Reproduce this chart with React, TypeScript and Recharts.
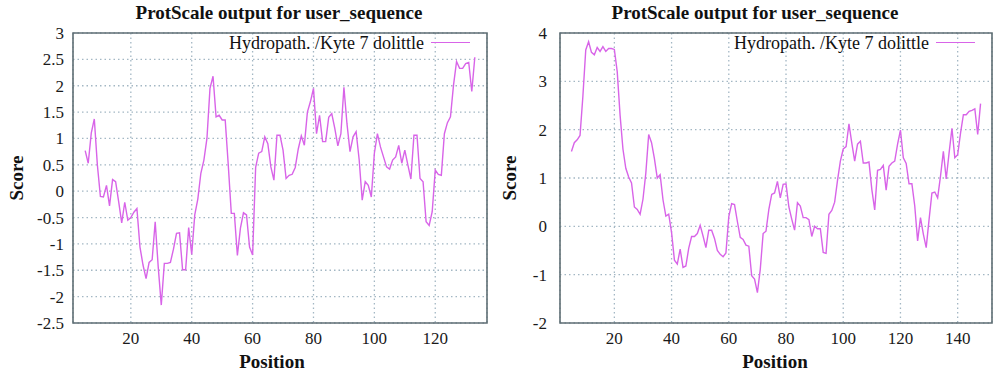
import React from 'react';
import { LineChart, Line, XAxis, YAxis, CartesianGrid, ReferenceArea } from 'recharts';

const TITLE = 'ProtScale output for user_sequence';
const LEGEND_LABEL = 'Hydropath. /Kyte 7 dolittle';
const X_LABEL = 'Position';
const Y_LABEL = 'Score';
const FIRST_POSITION = 5;

const leftScores = [
  0.77, 0.53, 1.1, 1.37, 0.5, -0.1, -0.11, 0.11, -0.28, 0.22,
  0.18, -0.2, -0.6, -0.21, -0.55, -0.5, -0.4, -0.33, -1.06, -1.4,
  -1.66, -1.35, -1.3, -0.58, -1.44, -2.16, -1.37, -1.37, -1.35, -1.1,
  -0.8, -0.79, -1.49, -1.49, -0.69, -1.2, -0.45, -0.15, 0.34, 0.59,
  1.0, 1.95, 2.18, 1.41, 1.44, 1.35, 1.35, 0.5, -0.42, -0.42,
  -1.22, -0.7, -0.41, -0.45, -1.06, -1.21, 0.45, 0.72, 0.75, 1.03,
  0.9, 0.46, 0.21, 1.06, 1.06, 0.78, 0.24, 0.3, 0.32, 0.45,
  0.8, 1.05, 0.87, 1.5, 1.7, 1.95, 1.09, 1.44, 0.94, 0.94,
  1.4, 1.47, 1.19, 0.86, 1.09, 1.97, 1.28, 0.75, 1.03, 1.13,
  0.6, -0.17, 0.18, 0.11, -0.11, 0.72, 1.09, 0.84, 0.65, 0.46,
  0.42, 0.59, 0.65, 0.87, 0.53, 0.78, 0.5, 0.23, 1.06, 1.06,
  0.24, 0.18, -0.58, -0.65, -0.39, 0.4, 0.32, 0.3, 1.09, 1.3,
  1.41, 2.01, 2.46, 2.33, 2.33, 2.42, 2.44, 1.89, 2.54,
];

const rightScores = [
  1.55, 1.73, 1.79, 1.88, 2.69, 3.65, 3.82, 3.6, 3.55, 3.7,
  3.62, 3.72, 3.62, 3.68, 3.68, 3.66, 3.2, 2.3, 1.6, 1.2,
  1.02, 0.9, 0.4, 0.35, 0.25, 0.56, 1.1, 1.9, 1.73, 1.4,
  1.0, 1.07, 0.55, 0.21, 0.25, -0.13, -0.7, -0.78, -0.47, -0.85,
  -0.82, -0.45, -0.21, -0.21, -0.15, 0.02, -0.2, -0.44, -0.08, -0.08,
  -0.25, -0.5, -0.58, -0.63, -0.55, 0.2, 0.47, 0.45, 0.1, -0.23,
  -0.27, -0.39, -0.41, -1.02, -1.09, -1.37, -0.89, -0.15, -0.1, 0.35,
  0.66, 0.69, 0.93, 0.59, 0.87, 0.88, 0.4, 0.15, -0.08, 0.49,
  0.42, 0.18, 0.18, 0.14, -0.21, 0.0, -0.05, -0.05, -0.54, -0.56,
  0.25, 0.33, 0.5, 0.95, 1.35, 1.6, 1.65, 2.12, 1.72, 1.35,
  1.7, 1.76, 1.31, 1.31, 1.33, 0.76, 0.34, 1.16, 1.18, 1.26,
  0.75, 1.24, 1.31, 1.35, 1.7, 1.99, 1.42, 1.3, 0.88, 0.88,
  0.42, -0.3, 0.18, -0.16, -0.44, 0.14, 0.69, 0.71, 0.59, 1.04,
  1.55, 0.98, 1.52, 2.03, 1.42, 1.48, 1.93, 2.31, 2.31, 2.38,
  2.4, 2.43, 1.9, 2.54,
];

const leftXTicks = [20, 40, 60, 80, 100, 120];
const leftYTicks = [-2.5, -2, -1.5, -1, -0.5, 0, 0.5, 1, 1.5, 2, 2.5, 3];
const leftXDomain = [1, 137];
const leftYDomain = [-2.5, 3];

const rightXTicks = [20, 40, 60, 80, 100, 120, 140];
const rightYTicks = [-2, -1, 0, 1, 2, 3, 4];
const rightXDomain = [1, 152];
const rightYDomain = [-2, 4];

const LINE_COLOR = '#d864e8';
const GRID_COLOR = '#a3b7c4';
const BORDER_COLOR = '#5f6e74';
const FONT = '"Liberation Serif", "DejaVu Serif", serif';

const toRows = (scores: number[]) =>
  scores.map((score, i) => ({ position: FIRST_POSITION + i, score }));

type PanelProps = {
  left: number;
  scores: number[];
  xTicks: number[];
  yTicks: number[];
  xDomain: number[];
  yDomain: number[];
  yAxisWidth: number;
  marginRight: number;
  tickMargin: number;
  titleX: number;
  yLabelX: number;
  xLabelX: number;
  legendEnd: number;
};

function Panel(p: PanelProps) {
  const data = toRows(p.scores);
  const tickStyle = { fontFamily: FONT, fontSize: 17, fill: '#1a1a1a' };
  return (
    <div style={{ position: 'absolute', left: p.left, top: 0, width: 500, height: 374 }}>
      <LineChart
        width={500}
        height={374}
        data={data}
        margin={{ top: 33, right: p.marginRight, left: 0, bottom: 11 }}
      >
        <CartesianGrid stroke={GRID_COLOR} strokeDasharray="1.5 3" strokeWidth={1.3} />
        <XAxis
          dataKey="position"
          type="number"
          domain={p.xDomain}
          ticks={p.xTicks}
          allowDataOverflow
          height={40}
          axisLine={false}
          tickLine={false}
          tickMargin={3}
          tick={tickStyle}
        />
        <YAxis
          type="number"
          domain={p.yDomain}
          ticks={p.yTicks}
          allowDataOverflow
          width={p.yAxisWidth}
          axisLine={false}
          tickLine={false}
          tickMargin={p.tickMargin}
          tick={tickStyle}
        />
        <ReferenceArea
          x1={p.xDomain[0]}
          x2={p.xDomain[1]}
          y1={p.yDomain[0]}
          y2={p.yDomain[1]}
          fill="none"
          stroke={BORDER_COLOR}
          strokeWidth={1.6}
          ifOverflow="visible"
        />
        <Line
          type="linear"
          dataKey="score"
          stroke={LINE_COLOR}
          strokeWidth={1.4}
          dot={false}
          isAnimationActive={false}
        />
      </LineChart>
      <div
        style={{
          position: 'absolute', left: p.titleX - 200, top: 1, width: 400, textAlign: 'center',
          fontFamily: FONT, fontWeight: 'bold', fontSize: 19, color: '#111', lineHeight: '24px',
        }}
      >
        {TITLE}
      </div>
      <div
        style={{
          position: 'absolute', left: p.xLabelX - 100, top: 350, width: 200, textAlign: 'center',
          fontFamily: FONT, fontWeight: 'bold', fontSize: 19, color: '#111', lineHeight: '24px',
        }}
      >
        {X_LABEL}
      </div>
      <div
        style={{
          position: 'absolute', left: p.yLabelX - 50, top: 166, width: 100, textAlign: 'center',
          fontFamily: FONT, fontWeight: 'bold', fontSize: 19, color: '#111', lineHeight: '24px',
          transform: 'rotate(-90deg)',
        }}
      >
        {Y_LABEL}
      </div>
      <div
        style={{
          position: 'absolute', left: p.legendEnd - 300, top: 31, width: 300, textAlign: 'right',
          fontFamily: FONT, fontSize: 18, color: '#111', lineHeight: '24px',
        }}
      >
        {LEGEND_LABEL}
      </div>
      <div
        style={{
          position: 'absolute', left: p.legendEnd + 7, top: 42, width: 39, height: 0,
          borderTop: `1.5px solid ${LINE_COLOR}`,
        }}
      />
    </div>
  );
}

export default function App() {
  return (
    <div style={{ position: 'absolute', left: 0, top: 0, width: 1000, height: 374, background: '#fff' }}>
      <Panel
        left={0}
        scores={leftScores}
        xTicks={leftXTicks}
        yTicks={leftYTicks}
        xDomain={leftXDomain}
        yDomain={leftYDomain}
        yAxisWidth={73}
        marginRight={13}
        tickMargin={3}
        titleX={279}
        yLabelX={17}
        xLabelX={272}
        legendEnd={424}
      />
      <Panel
        left={500}
        scores={rightScores}
        xTicks={rightXTicks}
        yTicks={rightYTicks}
        xDomain={rightXDomain}
        yDomain={rightYDomain}
        yAxisWidth={60}
        marginRight={8}
        tickMargin={7}
        titleX={255}
        yLabelX={10}
        xLabelX={275}
        legendEnd={429}
      />
    </div>
  );
}
